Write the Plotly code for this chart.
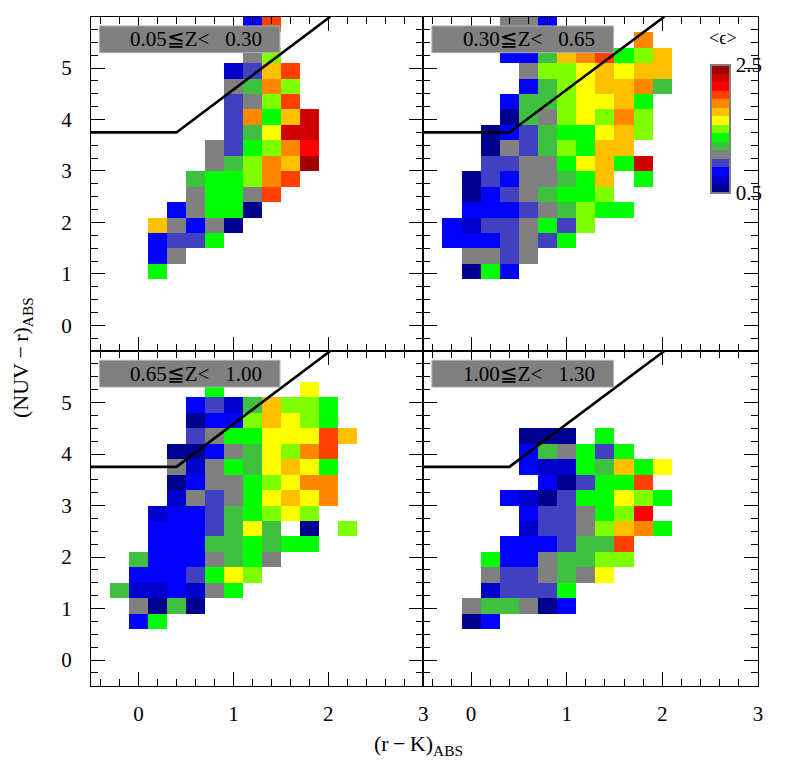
import plotly.graph_objects as go

# bin centres of the colour-colour grid
X_CENTERS = [-0.4, -0.2, 0.0, 0.2, 0.4, 0.6, 0.8, 1.0, 1.2, 1.4, 1.6, 1.8, 2.0, 2.2, 2.4, 2.6, 2.8]
Y_CENTERS = [5.85, 5.55, 5.25, 4.95, 4.65, 4.35, 4.05, 3.75, 3.45, 3.15,
             2.85, 2.55, 2.25, 1.95, 1.65, 1.35, 1.05, 0.75, 0.45, 0.15]

# 15 discrete <eps> levels between 0.5 and 2.5 (band mid values) and their colours
LEVEL_EPS = [0.567, 0.700, 0.833, 0.967, 1.100, 1.233, 1.367, 1.500,
             1.633, 1.767, 1.900, 2.033, 2.167, 2.300, 2.433]
LEVEL_COLORS = ["#000090", "#0000cc", "#0000ff", "#4040c0", "#808080", "#40c040",
                "#00ff00", "#80ff00", "#ffff00", "#ffc000", "#ff8800", "#ff4000",
                "#ff0000", "#d00000", "#a00000"]

# each character = level index (hex) of one cell, '.' = empty; rows top -> bottom
GRID_1 = [
    "........2b.......",
    ".................",
    "........47.......",
    ".......139b......",
    ".......45a7......",
    ".......347b......",
    ".......3a69d.....",
    ".......358dd.....",
    "......4367ac.....",
    "......457a9e.....",
    ".....5667ab......",
    ".....4664b.......",
    "....24660........",
    "...94240.........",
    "...2336..........",
    "...24............",
    "...6.............",
    ".................",
    ".................",
    ".................",
]
GRID_2 = [
    "....442..........",
    "...........a.....",
    "....2259ab679....",
    ".....47789899....",
    ".....257899a5....",
    "....25578896.....",
    "....054787a7.....",
    "...023566897.....",
    "...04357699......",
    "...33446896d.....",
    "..03244569.6.....",
    "..02345667.......",
    "..222345766......",
    ".21334637........",
    ".2223436.........",
    "..4434...........",
    "..062............",
    ".................",
    ".................",
    ".................",
]
GRID_3 = [
    ".................",
    ".................",
    "......6....8.....",
    ".....23159776....",
    ".....02279876....",
    ".....3466888b9...",
    "....0024587ab....",
    "....414658986....",
    "....0244678aa....",
    "....14346898a....",
    "...122356787.....",
    "...2223585.0.7...",
    "...222556566.....",
    "..52224564.......",
    "..2223687........",
    ".5112146.........",
    "..4050...........",
    "..26.............",
    ".................",
    ".................",
]
GRID_4 = [
    ".................",
    ".................",
    ".................",
    ".................",
    ".................",
    ".....000.6.......",
    ".....254636......",
    ".....21165968....",
    "......20366b.....",
    "....210366876....",
    ".....233467c.....",
    ".....133479a6....",
    "....222355b......",
    "...62245577......",
    "...4334548.......",
    "...13336.........",
    "..455402.........",
    "..02.............",
    ".................",
    ".................",
]

Z_LO = ["0.05", "0.30", "0.65", "1.00"]
Z_HI = ["0.30", "0.65", "1.00", "1.30"]

# dividing line (NUV-r vs r-K)
LINE_X = [-0.5, 0.4, 2.02]
LINE_Y = [3.75, 3.75, 6.0]

FONT = "Liberation Serif"
OFF = 8                      # page body margin
W, H = 786 - OFF, 779 - OFF


def px(x):
    return (x - OFF) / W


def py(y):
    return 1 - (y - OFF) / H


def decode(grid):
    return [[None if ch == "." else LEVEL_EPS[int(ch, 16)] for ch in row] for row in grid]


colorscale = []
n = len(LEVEL_COLORS)
for i, c in enumerate(LEVEL_COLORS):
    colorscale.append([i / n, c])
    colorscale.append([(i + 1) / n, c])

fig = go.Figure()
grids = [GRID_1, GRID_2, GRID_3, GRID_4]
for k, g in enumerate(grids):
    sfx = "" if k == 0 else str(k + 1)
    fig.add_trace(go.Heatmap(
        x=X_CENTERS, y=Y_CENTERS, z=decode(g), coloraxis="coloraxis",
        xaxis="x" + sfx, yaxis="y" + sfx, hoverinfo="skip"))
    fig.add_trace(go.Scatter(
        x=LINE_X, y=LINE_Y, mode="lines", line=dict(color="black", width=2.6),
        xaxis="x" + sfx, yaxis="y" + sfx, hoverinfo="skip"))
    # redshift label box
    fig.add_shape(type="rect", xref="x" + sfx, yref="y" + sfx,
                  x0=-0.41, x1=1.49, y0=5.30, y1=5.82,
                  fillcolor="#808080", line=dict(color="#b0b0b0", width=1), layer="above")
    fig.add_annotation(xref="x" + sfx, yref="y" + sfx, x=0.61, y=5.56,
                       text=f"{Z_LO[k]}≦Z&lt;\u00a0\u00a0\u00a0{Z_HI[k]}",
                       showarrow=False, font=dict(family=FONT, size=21, color="black"))

# panel domains (pixel based, screen coordinates)
xl = [px(91), px(423.3)]
xr = [px(423.3), px(758)]
yt = [py(351), py(16.7)]
yb = [py(685.8), py(351)]

tickfont = dict(family=FONT, size=21, color="black")


def xax(dom, anchor, labels):
    return dict(domain=dom, anchor=anchor, range=[-0.5, 3], tick0=0, dtick=1,
                ticks="inside", ticklen=14, tickwidth=1.2, tickcolor="black",
                minor=dict(tickmode="linear", tick0=0, dtick=0.2, ticks="inside",
                           ticklen=7, tickwidth=1, tickcolor="black", showgrid=False),
                showline=True, linecolor="black", linewidth=1.3, mirror="allticks",
                showgrid=False, zeroline=False, showticklabels=labels, automargin=False,
                tickfont=tickfont, ticklabelstandoff=9)


def yax(dom, anchor, labels):
    return dict(domain=dom, anchor=anchor, range=[-0.5, 6], tickvals=[0, 1, 2, 3, 4, 5],
                ticks="inside", ticklen=14, tickwidth=1.2, tickcolor="black",
                minor=dict(tickmode="linear", tick0=0, dtick=0.25, ticks="inside",
                           ticklen=7, tickwidth=1, tickcolor="black", showgrid=False),
                showline=True, linecolor="black", linewidth=1.3, mirror="allticks",
                showgrid=False, zeroline=False, showticklabels=labels, automargin=False,
                tickfont=tickfont, ticklabelstandoff=14)


fig.update_layout(
    width=W, height=H, margin=dict(l=0, r=0, t=0, b=0, autoexpand=False),
    paper_bgcolor="white", plot_bgcolor="white", showlegend=False,
    xaxis=xax(xl, "y", False), yaxis=yax(yt, "x", True),
    xaxis2=xax(xr, "y2", False), yaxis2=yax(yt, "x2", False),
    xaxis3=xax(xl, "y3", True), yaxis3=yax(yb, "x3", True),
    xaxis4=xax(xr, "y4", True), yaxis4=yax(yb, "x4", False),
    coloraxis=dict(
        colorscale=colorscale, cmin=0.5, cmax=2.5,
        colorbar=dict(x=px(711), xanchor="left", xpad=0, y=py(129), yanchor="middle",
                      ypad=0, len=128, lenmode="pixels", thickness=19, thicknessmode="pixels",
                      outlinecolor="#808080", outlinewidth=2, tickvals=[0.5, 2.5],
                      ticktext=["0.5", "2.5"], ticks="", tickfont=tickfont)),
)

fig.add_annotation(xref="paper", yref="paper", x=px(723), y=py(38), text="&lt;ϵ&gt;",
                   xanchor="center", yanchor="middle", showarrow=False,
                   font=dict(family=FONT, size=18, color="black"))
fig.add_annotation(xref="paper", yref="paper", x=px(22), y=py(358),
                   xanchor="center", yanchor="middle",
                   text="(NUV\u2009−\u2009r)<sub>ABS</sub>", textangle=-90, showarrow=False,
                   font=dict(family=FONT, size=22, color="black"))
fig.add_annotation(xref="paper", yref="paper", x=px(418), y=py(745),
                   xanchor="center", yanchor="middle",
                   text="(r\u2009−\u2009K)<sub>ABS</sub>", showarrow=False,
                   font=dict(family=FONT, size=22, color="black"))

fig.write_html("out.html")
